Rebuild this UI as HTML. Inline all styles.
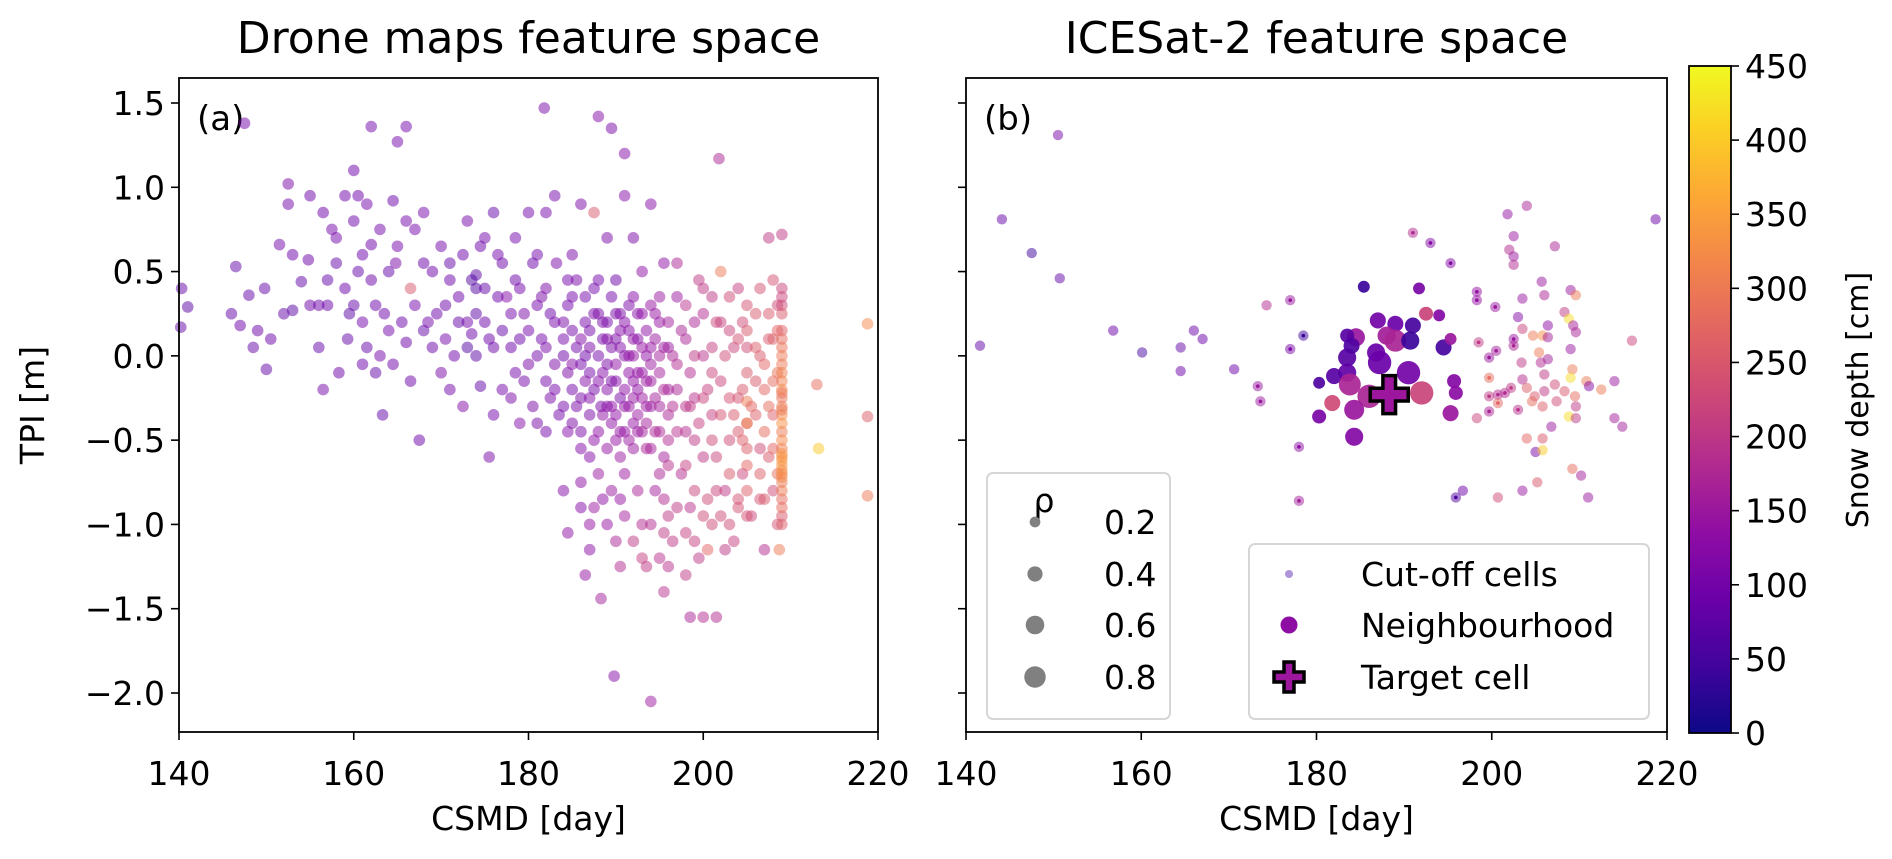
<!DOCTYPE html>
<html><head><meta charset="utf-8"><style>
html,body{margin:0;padding:0;background:#fff;}
svg{display:block;font-family:"DejaVu Sans","Liberation Sans",sans-serif;}
</style></head><body>
<svg id="fig" width="1892" height="859" viewBox="0 0 1892 859" xmlns="http://www.w3.org/2000/svg">
<defs>
<linearGradient id="plasmaGrad" x1="0" y1="1" x2="0" y2="0">
<stop offset="0" stop-color="#0d0887"/><stop offset="0.1" stop-color="#41049d"/><stop offset="0.2" stop-color="#6a00a8"/><stop offset="0.3" stop-color="#8f0da4"/><stop offset="0.4" stop-color="#b12a90"/><stop offset="0.5" stop-color="#cc4778"/><stop offset="0.6" stop-color="#e16462"/><stop offset="0.7" stop-color="#f2844b"/><stop offset="0.8" stop-color="#fca636"/><stop offset="0.9" stop-color="#fcce25"/><stop offset="1" stop-color="#f0f921"/>
</linearGradient>
</defs>
<g id="panelA"></g>
<g id="panelB"></g>
<g id="cbar"></g>
</svg>
<script>
// ---------- Panel (a) data: drone maps ----------
const csmdA1=[140.3,141,140.2,146,147,146.5,147.5,148,148.5,149,
149.8,150,150.5,151.5,152.5,152.5,153,154,154.8,155,
156,156.5,156.5,157,157.5,158,158.3,159,159.3,159.5,
160,160,160.5,161,161,161.5,162,162,162.5,163,
163.3,164,164.5,164.8,165,166,166,166.5,167,167.5,
168,168.5,169.5,170,170.5,171,171.5,172,172.5,173,
173.5,174,174,174.5,175,175.5,176,176,176.5,177,
177.5,178,178.5,179,179.5,180,180.5,180.5,181,181.5,
181.8,182,182,182.5,183,183.2,183.5,184,184,184.5,
185,185,185.5,186,186,186.5,187,187,187.5,187.5,
188,188,188.3,188.5,189,189,189.5,189.5,189.8,190,
190,190.5,190.5,191,191,191,191.5,191.5,192,192,
192.5,192.5,193,193,193.5,193.5,194,194,194,194.5,
195,195,195.5,195.5,196,196,196.5,197,197,197.5,
198,198,198.5,199,199,199.5,200,200,200.5,201,
201,201.5,201.8,202,202,202.5,203,203,203.5,204,
204,204.5,205,205,205.5,206,206,206.5,207,207.5,
207.5,208,208,208.5,208.7,209,209,209,209,209,
209,209,209,209,209,209,209,209,209,209,
213,213.2,218.8,218.8,218.8,205,205,205,205,205,
186,186,186.5,187,187,187.5,188,188,188.5,188.5,
189,189,189.5,189.5,190,190,190.5,190.5,191,191,
191.5,191.5,192,192,192,192.5,192.5,193,193,193.5,
193.5,194,194,194.5,194.5,195,195,195.5,196,196,
183,183,184,184,184.5,185,185,182,182,181,
197,197.5,198,198.5,199,200,200.5,201,201.5,202,
203,203.5,204,204.5,206,206.5,207,207.5,208,208,
178,178.5,179,176.5,175,174.5,173,171,169,168,
186,187.5,189,190.5,192,193.5,195,196,198,199,
188.3,190.5,195.5,186.5,200,201,202.5,204,206.5,208.5];
const tpiA1=[0.40,0.29,0.17,0.25,0.18,0.53,1.38,0.36,0.05,0.15,
0.40,-0.08,0.10,0.66,0.90,1.02,0.27,0.44,0.57,0.30,
0.30,-0.20,0.85,0.45,0.75,0.55,-0.10,0.95,0.10,0.25,
0.80,1.10,0.50,-0.05,0.20,0.90,0.66,1.36,0.30,0.00,
-0.35,0.15,0.92,0.55,1.27,1.36,0.08,0.40,0.75,-0.50,
0.15,0.20,0.25,-0.10,0.30,0.55,0.00,0.35,-0.30,0.80,
0.13,0.48,0.40,-0.18,0.20,-0.60,0.85,0.05,0.35,-0.20,
0.35,0.05,-0.10,-0.40,0.25,0.15,0.55,-0.30,0.00,0.35,
1.47,-0.15,0.85,0.25,-0.05,0.55,-0.35,0.10,-0.80,0.30,
-0.20,0.60,0.05,-0.45,0.90,0.20,-0.10,-0.60,0.40,0.85,
1.42,0.00,-0.30,-0.85,0.70,0.20,-0.15,1.35,-1.90,-0.50,
0.45,0.05,-0.25,1.20,0.95,-0.70,0.30,-0.10,-0.40,0.70,
0.10,-0.20,-1.00,0.50,-0.55,0.00,-0.30,-2.05,0.90,-0.80,
0.20,-0.10,-0.60,0.55,-0.35,0.05,-1.10,-0.20,0.35,-0.70,
0.10,-0.45,-0.90,-0.25,0.20,0.45,-0.60,0.00,-1.15,-0.35,
0.35,-1.55,1.17,-0.15,0.50,-0.80,0.15,-0.50,-1.10,0.40,
-0.25,-0.70,0.05,-0.40,-0.95,0.25,-0.15,-0.55,-1.15,0.10,
0.70,-0.35,-0.80,0.30,-1.15,0.40,0.30,0.15,0.05,-0.05,
-0.15,-0.25,-0.35,-0.45,-0.55,-0.65,-0.75,-0.85,-0.95,0.72,
-0.17,-0.55,0.19,-0.36,-0.83,-0.27,-0.40,-0.55,-0.65,-0.10,
-0.05,-0.25,0.00,0.15,-0.35,-0.20,0.25,-0.45,0.10,-0.10,
-0.30,-0.05,0.35,-0.40,-0.15,0.10,0.25,-0.45,0.00,-0.30,
0.15,-0.50,-0.15,0.00,-0.25,-0.35,0.25,-0.10,-0.45,0.15,
-0.30,0.05,-0.15,-0.45,0.25,-0.30,-0.70,0.05,-0.20,-0.50,
0.20,-0.20,0.00,-0.30,0.45,-0.40,0.15,0.05,-0.45,0.30,
-0.05,0.15,-0.30,-0.10,-0.50,0.25,-0.20,0.05,-0.60,0.20,
-0.25,0.05,-0.45,0.20,-0.35,0.00,-0.20,-0.60,0.10,-0.15,
0.25,0.45,0.10,0.60,0.40,0.65,0.20,0.45,0.50,0.85,
-0.75,-0.90,-1.00,-0.85,-1.10,-1.25,-1.20,-0.95,-1.30,-1.10,
-1.44,-1.25,-1.40,-1.30,-1.55,-1.00,-1.15,-0.90,-0.85,-1.00];
const depthA1=[80,70,80,80,90,80,100,80,80,90,
80,80,90,100,100,110,70,80,90,90,
90,100,90,80,100,80,90,90,80,70,
90,90,80,90,100,100,90,100,90,100,
80,100,90,110,100,100,90,250,100,90,
80,100,90,110,90,80,90,90,120,100,
90,70,60,80,90,110,80,90,90,100,
120,90,100,120,110,100,90,110,100,110,
110,100,100,90,110,110,100,100,120,100,
100,110,100,110,110,100,100,120,100,250,
120,100,110,130,110,100,110,110,120,140,
90,120,110,120,120,150,110,130,140,110,
120,130,180,130,170,130,150,150,120,160,
140,160,160,130,170,150,200,170,150,180,
170,180,190,190,170,200,200,190,270,210,
200,180,170,220,300,200,220,230,210,210,
240,220,230,240,220,250,250,230,180,250,
200,260,230,230,300,220,230,260,290,300,
310,290,320,300,310,330,300,280,250,200,
280,400,320,260,300,300,320,260,270,250,
100,110,90,100,110,100,110,130,100,120,
120,110,100,130,120,110,110,140,120,130,
120,150,130,140,140,150,120,140,160,130,
150,140,150,170,140,160,170,150,160,180,
100,100,90,100,100,110,100,110,100,100,
180,170,190,180,200,180,210,210,220,210,
240,220,250,230,260,250,270,250,260,280,
100,90,90,100,80,90,100,90,90,100,
130,150,140,140,200,200,190,200,200,210,
160,180,190,140,180,230,200,240,240,240];
const csmdA2=[152,153,155,156,157,158,159,160,160.5,161,
161.5,162,162.5,163,163.5,164,164.5,165,165.5,166,
166.5,167,168,169,170,170.5,171,172,172.5,173,
173.5,174,174,175,175.5,176,177,177,178,178.5,
179,179.5,180,180,181,181,181.5,182,182.5,183,
184,184.5,184.5,185,185,185.5,185.5,186,186,186.5,
186.5,187,187,187.5,187.5,188,188,188.5,188.5,189,
189,189,189.5,189.5,190,190,190,190.5,190.5,191,
191,191,191.5,191.5,192,192,192,192.5,192.5,193,
193,193,193.5,193.5,194,194,194,194.5,194.5,195,
195,195,195.5,195.5,196,196,196.5,196.5,197,197,
198,198,198.5,199,199,199.5,200,200,200.5,201,
201,201.5,202,202,202.5,203,203,203.5,204,204,
204.5,204.5,205,205,205,205,205.5,206,206.5,206.5,
207,207,207,207.5,207.5,208,208,208.5,208.5,208.5,
209,209,209,209,209,209,209,209,209,209,
209,209,209,209,209,209,209,209,209,209,
186,187,188,189.5,191,192.5,194,195.5,197,198,
193,196,199.5,190,201.5,203,200,198.5,187,184.5];
const tpiA2=[0.25,0.60,0.95,0.05,0.30,0.70,0.40,0.30,0.95,0.60,
0.05,0.45,-0.10,0.75,0.25,0.50,-0.05,0.65,0.20,0.80,
-0.15,0.30,0.55,0.05,0.65,0.10,-0.20,0.20,0.60,0.05,
0.45,0.25,0.00,0.70,0.10,-0.35,0.55,0.15,-0.25,0.70,
0.40,-0.15,0.85,-0.05,0.60,-0.40,0.10,0.40,-0.25,0.95,
0.20,-0.10,-0.45,0.35,-0.05,-0.30,0.45,0.10,-0.55,-0.15,
0.35,0.05,-0.25,0.25,-0.50,-0.15,0.45,-0.35,0.20,0.10,
-0.20,-0.55,0.05,-0.30,0.25,-0.35,-0.05,0.15,-0.60,-0.20,
0.20,-0.45,0.00,-0.30,0.35,-0.55,0.10,-0.10,-0.45,0.25,
-0.25,0.05,-0.40,-0.15,0.30,-0.05,-0.55,0.10,-0.25,-0.45,
0.00,0.35,-0.20,-0.85,0.20,-0.65,-0.30,0.00,-0.45,0.55,
0.30,-0.65,-0.30,0.00,-0.80,-0.40,0.40,-0.25,-0.85,-0.10,
-0.50,0.20,-0.35,-0.95,0.00,-0.70,0.35,-0.35,0.10,-0.85,
-0.20,-0.50,0.30,-0.80,0.15,-0.95,-0.30,0.05,-0.70,0.40,
-0.05,-0.45,-0.85,0.25,-0.30,-0.55,0.45,-0.10,-0.70,0.15,
0.35,0.25,0.10,0.00,-0.10,-0.20,-0.30,-0.40,-0.50,-0.60,
-0.70,-0.80,-0.90,-1.00,-0.62,-0.68,-0.58,-0.72,-0.32,-0.22,
-0.90,-1.00,-0.70,-0.80,-0.95,-0.80,-1.00,-1.05,-0.90,-1.05,
-1.20,-1.25,-1.20,-1.10,-0.80,-1.00,-0.95,-1.55,-1.15,-1.05];
const depthA2=[80,90,90,80,90,100,90,80,90,90,
80,90,80,100,90,80,90,100,90,100,
90,100,90,90,100,100,100,80,90,60,
60,70,70,100,90,100,90,80,110,100,
100,100,100,110,100,110,100,110,110,100,
110,110,120,100,120,110,110,120,120,120,
100,110,120,110,130,120,100,130,110,120,
120,140,110,130,110,130,130,120,150,130,
120,140,130,140,120,150,130,140,150,130,
150,140,160,150,140,150,160,150,160,170,
160,150,170,180,160,190,180,170,190,170,
190,210,200,200,220,210,200,220,230,220,
230,220,240,230,230,250,230,250,240,240,
250,260,240,260,250,240,270,260,260,240,
270,280,250,250,280,270,240,290,280,270,
220,250,280,300,310,320,300,330,320,330,
320,300,280,260,340,330,330,320,300,290,
120,140,150,150,160,170,180,200,200,210,
210,190,200,170,220,230,230,170,130,130];
const csmdA=csmdA1.concat(csmdA2);
const tpiA=tpiA1.concat(tpiA2);
const depthA=depthA1.concat(depthA2);

// ---------- Panel (b) data: ICESat-2 ----------
const cutCsmd=[150.5,144.1,147.5,150.7,141.6,156.8,160.1,164.5,164.5,166,
167,170.6,174.3,177,173.3,173.6,178.5,177,178,178,
191,193,195.3,198.3,198.3,200.4,201.8,204,202.5,202,
202.5,202.5,207.2,218.7,205.7,203.5,206,209,209.6,203,
208.3,208.8,209.3,206.4,203.5,204.7,205.8,206.4,209.6,216,
202.5,202.5,198.5,200.5,199.7,205.4,209,206.4,203.4,205.6,
206,209.2,199.7,203.5,209,210.8,211.1,214,207.2,204,
202.2,201.5,200.7,206,204.9,208.3,209.5,212.5,199.7,199.7,
200.7,203,204.6,205.8,207.4,209.6,198.3,208.8,209.6,214,
214.9,206.8,204,205.8,205,205.8,209.2,210.2,205.2,203.5,
200.7,211,196.7,195.9];
const cutTpi=[1.31,0.81,0.61,0.46,0.06,0.15,0.02,0.05,-0.09,0.15,
0.10,-0.08,0.30,0.33,-0.18,-0.27,0.12,0.04,-0.54,-0.86,
0.73,0.67,0.55,0.38,0.33,0.29,0.84,0.89,0.71,0.63,
0.59,0.54,0.65,0.81,0.44,0.34,0.36,0.39,0.36,0.23,
0.26,0.22,0.18,0.18,0.16,0.12,0.12,0.11,0.14,0.09,
0.10,0.06,0.08,0.03,-0.01,0.02,0.04,-0.02,-0.04,-0.04,
-0.11,-0.08,-0.13,-0.14,-0.13,-0.15,-0.18,-0.15,-0.17,-0.19,
-0.19,-0.22,-0.23,-0.21,-0.24,-0.21,-0.24,-0.20,-0.24,-0.33,
-0.28,-0.32,-0.27,-0.30,-0.27,-0.30,-0.37,-0.36,-0.37,-0.37,
-0.42,-0.42,-0.49,-0.49,-0.57,-0.56,-0.67,-0.71,-0.75,-0.80,
-0.84,-0.84,-0.80,-0.84];
const cutDepth=[110,80,40,80,80,90,50,80,90,90,
90,90,180,150,150,150,40,110,130,160,
180,120,120,140,140,150,140,170,150,180,
150,180,170,90,150,150,170,150,300,120,
200,420,160,130,220,300,330,160,170,220,
150,170,200,160,150,300,150,160,200,180,
200,300,280,180,420,300,120,150,230,260,
200,180,180,200,250,250,280,300,200,170,
270,190,280,260,230,200,220,420,200,160,
160,150,270,250,110,400,280,160,250,150,
230,150,90,60];
const cutDot=[0,0,0,0,0,0,0,0,0,0,
0,0,0,1,1,1,1,1,1,1,
1,1,1,1,1,1,0,0,0,0,
0,0,0,0,0,0,0,0,0,0,
0,0,0,0,0,0,0,0,0,0,
1,1,1,1,1,0,0,0,0,0,
0,0,1,0,0,0,0,0,0,0,
1,1,1,0,0,0,0,0,1,1,
1,1,0,0,0,0,0,0,0,0,
0,0,0,0,0,0,0,0,0,0,
0,0,0,1];
const nbCsmd=[187,189,191,188,189,190.7,184.5,183.5,183.5,186.8,
187.2,194.5,195.3,192.5,194,190.5,183.5,182,180.3,183.8,
186,192,181.8,184.3,180.3,184.3,195.7,195.9,195.3,185.4,
191.7,184];
const nbTpi=[0.21,0.19,0.18,0.12,0.09,0.09,0.11,0.12,-0.01,0.02,
-0.04,0.05,0.10,0.25,0.24,-0.10,-0.10,-0.12,-0.16,-0.17,
-0.24,-0.22,-0.28,-0.32,-0.36,-0.48,-0.15,-0.22,-0.34,0.41,
0.40,0.06];
const nbDepth=[100,90,50,160,170,40,150,70,70,90,
90,50,150,220,120,100,80,70,60,170,
170,220,230,150,110,120,120,130,150,40,
110,60];
const nbRho=[0.47,0.47,0.47,0.6,0.88,0.6,0.6,0.36,0.6,0.6,
1.0,0.47,0.26,0.36,0.26,1.0,0.6,0.47,0.26,0.88,
1.0,1.0,0.47,0.73,0.36,0.6,0.36,0.36,0.47,0.26,
0.26,0.47];
const targetCsmd=[188.3];
const targetTpi=[-0.23];
const xTicks=[140,160,180,200,220];
const yTicks=[1.5,1.0,0.5,0.0,-0.5,-1.0,-1.5,-2.0];
const yTickLabels=["1.5","1.0","0.5","0.0","\u22120.5","\u22121.0","\u22121.5","\u22122.0"];
const cbTicks=[0,50,100,150,200,250,300,350,400,450];
const rhoLegend=[0.2,0.4,0.6,0.8];

// ---------- helpers ----------
const NS='http://www.w3.org/2000/svg';
const stops=[[13,8,135],[65,4,157],[106,0,168],[143,13,164],[177,42,144],[204,71,120],[225,100,98],[242,132,75],[252,166,54],[252,206,37],[240,249,33]];
function plasma(v){let t=Math.max(0,Math.min(1,v/450))*10;let i=Math.min(9,Math.floor(t));let f=t-i;const a=stops[i],b=stops[i+1];return 'rgb('+a.map((c,k)=>Math.round(c+(b[k]-c)*f)).join(',')+')';}
const Y0=78,Y1=732;
function yScale(v){return 103+(1.5-v)*168.57;}
function xScaleA(v){return 179+(v-140)*(878-179)/80;}
function xScaleB(v){return 966+(v-140)*(1667-966)/80;}
function cbScale(v){return 733-v*(733-66)/450;}
function el(parent,tag,attrs){const e=document.createElementNS(NS,tag);for(const k in attrs)e.setAttribute(k,attrs[k]);parent.appendChild(e);return e;}
function rhoR(r){return 11.7*Math.sqrt(r);}

function drawAxes(g,x0,x1,xs,showY,title,letter){
  const t=el(g,'text',{x:(x0+x1)/2,y:53,'text-anchor':'middle','font-size':44,fill:'#000'});t.textContent=title;
  
  
  const l=el(g,'text',{x:x0+18,y:130,'font-size':34,fill:'#000'});l.textContent=letter;
  
  
  xTicks.forEach(v=>{const x=xs(v);
    const tk=el(g,'line',{x1:x,x2:x,y1:Y1,y2:Y1+8,stroke:'#000','stroke-width':1.6});
    
    
    const tl=el(g,'text',{x:x,y:785,'text-anchor':'middle','font-size':33,fill:'#000'});tl.textContent=v;
    
    
  });
  yTicks.forEach((v,i)=>{const y=yScale(v);
    const tk=el(g,'line',{x1:x0-8,x2:x0,y1:y,y2:y,stroke:'#000','stroke-width':1.6});
    
    
    if(showY){const tl=el(g,'text',{x:x0-14,y:y+12,'text-anchor':'end','font-size':33,fill:'#000'});tl.textContent=yTickLabels[i];
      
      }
  });
  const xl=el(g,'text',{x:(x0+x1)/2,y:830,'text-anchor':'middle','font-size':33,fill:'#000'});xl.textContent='CSMD [day]';
  
  
}
function frame(g,x0,x1){const r=el(g,'rect',{x:x0,y:Y0,width:x1-x0,height:Y1-Y0,fill:'none',stroke:'#000','stroke-width':1.8});
  
  }

// ---------- panel a ----------
const gA=document.getElementById('panelA');
drawAxes(gA,179,878,xScaleA,true,'Drone maps feature space','(a)');
const yl=el(gA,'text',{x:0,y:0,'text-anchor':'middle','font-size':33,fill:'#000',transform:'translate(44,405) rotate(-90)'});yl.textContent='TPI [m]';


const ptsA=el(gA,'g',{});


csmdA.forEach((c,i)=>{
  const p=el(ptsA,'circle',{cx:xScaleA(c),cy:yScale(tpiA[i]),r:5.8,fill:plasma(depthA[i]),'fill-opacity':0.5});
  
  
});
frame(gA,179,878);

// ---------- panel b ----------
const gB=document.getElementById('panelB');
drawAxes(gB,966,1667,xScaleB,false,'ICESat-2 feature space','(b)');
const ptsB=el(gB,'g',{});


cutCsmd.forEach((c,i)=>{
  const p=el(ptsB,'circle',{cx:xScaleB(c),cy:yScale(cutTpi[i]),r:5.2,fill:plasma(cutDepth[i]),'fill-opacity':0.5});
  
  
  if(cutDot[i]){const d=el(ptsB,'circle',{cx:xScaleB(c),cy:yScale(cutTpi[i]),r:1.8,fill:plasma(cutDepth[i])});
    
    }
});
nbCsmd.forEach((c,i)=>{
  const p=el(ptsB,'circle',{cx:xScaleB(c),cy:yScale(nbTpi[i]),r:rhoR(nbRho[i]),fill:plasma(nbDepth[i]),'fill-opacity':0.92});
  
  
});
function plusPath(cx,cy,s){const a=s/2,b=s/6;return `M${cx-b},${cy-a}H${cx+b}V${cy-b}H${cx+a}V${cy+b}H${cx+b}V${cy+a}H${cx-b}V${cy+b}H${cx-a}V${cy-b}H${cx-b}Z`;}
targetCsmd.forEach((c,i)=>{
  const p=el(ptsB,'path',{d:plusPath(xScaleB(c),yScale(targetTpi[i]),38),fill:'#9c179e',stroke:'#000','stroke-width':3.5,'stroke-linejoin':'miter'});
  
  
});
frame(gB,966,1667);

// rho legend
const lg1=el(gB,'g',{});


el(lg1,'rect',{x:987,y:473,width:183,height:246,rx:6,fill:'#fff','fill-opacity':0.85,stroke:'#d6d6d6','stroke-width':2});
const rt=el(lg1,'text',{x:1044,y:512,'text-anchor':'middle','font-size':33,fill:'#000'});rt.textContent='\u03c1';


const rys=[522,574,625,677];
rhoLegend.forEach((r,i)=>{
  const c=el(lg1,'circle',{cx:1035,cy:rys[i],r:12*Math.sqrt(r),fill:'#808080'});
  
  
  const t=el(lg1,'text',{x:1104,y:rys[i]+12,'font-size':33,fill:'#000'});t.textContent=r.toFixed(1);
  
  
});
// type legend
const lg2=el(gB,'g',{});


el(lg2,'rect',{x:1249,y:544,width:400,height:175,rx:6,fill:'#fff','fill-opacity':0.85,stroke:'#d6d6d6','stroke-width':2});
const m1=el(lg2,'circle',{cx:1289,cy:574,r:4,fill:'#7a4fc0','fill-opacity':0.6});


const m2=el(lg2,'circle',{cx:1289,cy:625,r:8.5,fill:'#8e0ea4'});


const m3=el(lg2,'path',{d:plusPath(1289,677,30),fill:'#9c179e',stroke:'#000','stroke-width':3.5});


[['Cut-off cells',574],['Neighbourhood',625],['Target cell',677]].forEach(([s,y])=>{
  const t=el(lg2,'text',{x:1361,y:y+12,'font-size':33,fill:'#000'});t.textContent=s;
  
  
});

// ---------- colorbar ----------
const gC=document.getElementById('cbar');
const cr=el(gC,'rect',{x:1689,y:66,width:42,height:667,fill:'url(#plasmaGrad)',stroke:'#000','stroke-width':1.8});


cbTicks.forEach(v=>{const y=cbScale(v);
  const tk=el(gC,'line',{x1:1731,x2:1739,y1:y,y2:y,stroke:'#000','stroke-width':1.6});
  
  
  const t=el(gC,'text',{x:1745,y:y+12,'font-size':33,fill:'#000'});t.textContent=v;
  
  
});
const cl=el(gC,'text',{x:0,y:0,'text-anchor':'middle','font-size':30,fill:'#000',transform:'translate(1868,400) rotate(-90)'});cl.textContent='Snow depth [cm]';


</script>
</body></html>
